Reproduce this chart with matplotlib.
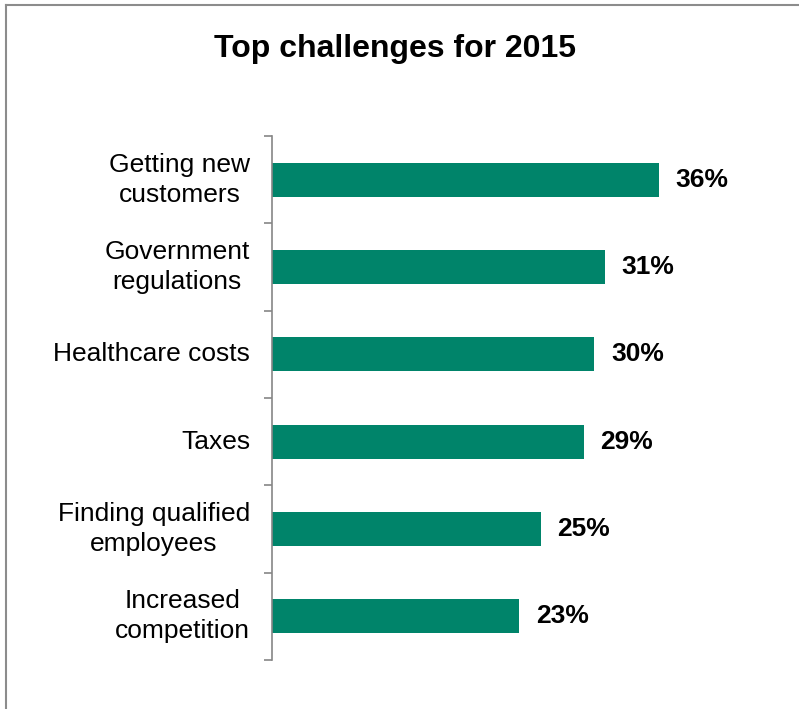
import matplotlib.pyplot as plt
from matplotlib.lines import Line2D

plt.rcParams['font.family'] = ['Liberation Sans', 'DejaVu Sans']

# Survey results, top to bottom
challenges = ['Getting new\ncustomers', 'Government\nregulations', 'Healthcare costs',
              'Taxes', 'Finding qualified\nemployees', 'Increased\ncompetition']
shares = [36, 31, 30, 29, 25, 23]

bar_color = '#00846A'

fig = plt.figure(figsize=(7.99, 7.09), dpi=100)
ax = fig.add_axes([0.3404, 0.0691, 0.538, 0.7391])

y = list(range(len(challenges)))
ax.barh(y, shares, height=0.39, color=bar_color)
ax.set_ylim(len(challenges) - 0.5, -0.5)
ax.set_xlim(0, 40)

for yi, v in zip(y, shares):
    ax.text(v + 1.55, yi, f'{v}%', va='center', ha='left',
            fontsize=19, fontweight='bold', color='black')

# category boundaries carry the tick marks, labels sit between them
ax.set_yticks([i - 0.5 for i in range(len(challenges) + 1)])
ax.set_yticklabels([])
ax.tick_params(axis='y', length=6, width=1.2, color='#868686', direction='out')
for yi, lab in zip(y, challenges):
    ax.text(-0.051, yi, lab, transform=ax.get_yaxis_transform(),
            ha='right', va='center', multialignment='center',
            fontsize=19, linespacing=1.33, color='black')

ax.set_xticks([])
for side in ['top', 'right', 'bottom']:
    ax.spines[side].set_visible(False)
ax.spines['left'].set_color('#868686')
ax.spines['left'].set_linewidth(1.2)

fig.text(0.494, 0.931, 'Top challenges for 2015', ha='center', va='center',
         fontsize=23, fontweight='bold')

# frame lines along the left and top edges
fig.add_artist(Line2D([0.0075, 0.0075], [0, 0.993], transform=fig.transFigure,
                      color='#8c8c8c', linewidth=1.5))
fig.add_artist(Line2D([0.0075, 0.999], [0.993, 0.993], transform=fig.transFigure,
                      color='#8c8c8c', linewidth=1.5))

fig.savefig('out.png', dpi=100)
